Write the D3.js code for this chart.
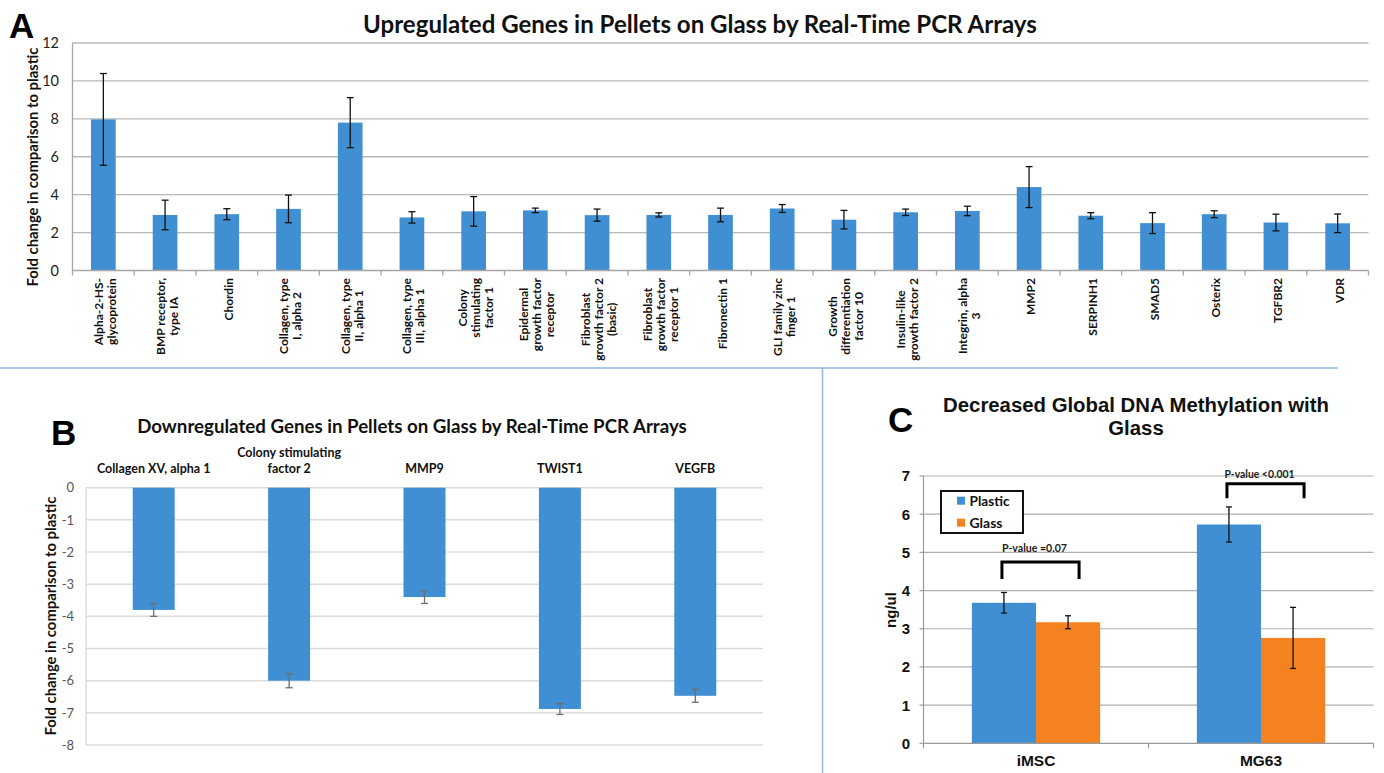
<!DOCTYPE html>
<html>
<head>
<meta charset="utf-8">
<script src="https://cdn.jsdelivr.net/npm/d3@7"></script>
<style>
  html, body { margin: 0; padding: 0; background: #fff; }
  svg { display: block; }
</style>
</head>
<body>
<svg id="chart" width="1384" height="773"></svg>
<script>
// ---------------- DATA ----------------
const upGenes = [
  "Alpha-2-HS-\nglycoprotein", "BMP receptor,\ntype IA", "Chordin", "Collagen, type\nI, alpha 2",
  "Collagen, type\nII, alpha 1", "Collagen, type\nIII, alpha 1", "Colony\nstimulating\nfactor 1",
  "Epidermal\ngrowth factor\nreceptor", "Fibroblast\ngrowth factor 2\n(basic)", "Fibroblast\ngrowth factor\nreceptor 1",
  "Fibronectin 1", "GLI family zinc\nfinger 1", "Growth\ndifferentiation\nfactor 10", "Insulin-like\ngrowth factor 2",
  "Integrin, alpha\n3", "MMP2", "SERPINH1", "SMAD5", "Osterix", "TGFBR2", "VDR"
];
const upValues = [7.97, 2.93, 2.97, 3.25, 7.8, 2.8, 3.12, 3.17, 2.92, 2.93, 2.93, 3.27, 2.68, 3.07, 3.14, 4.4, 2.89, 2.5, 2.97, 2.53, 2.49];
const upErrors = [2.42, 0.78, 0.29, 0.73, 1.32, 0.3, 0.78, 0.12, 0.32, 0.11, 0.36, 0.21, 0.49, 0.17, 0.25, 1.08, 0.16, 0.55, 0.18, 0.44, 0.49];
const upTicks = [0, 2, 4, 6, 8, 10, 12];

const downGenes = ["Collagen XV, alpha 1", "Colony stimulating\nfactor 2", "MMP9", "TWIST1", "VEGFB"];
const downValues = [-3.8, -6.0, -3.4, -6.88, -6.47];
const downErrors = [0.2, 0.22, 0.2, 0.17, 0.2];
const downTicks = [0, -1, -2, -3, -4, -5, -6, -7, -8];

const cells = ["iMSC", "MG63"];
const seriesNames = ["Plastic", "Glass"];
const plasticValues = [3.68, 5.73];
const glassValues = [3.17, 2.76];
const plasticErrors = [0.27, 0.46];
const glassErrors = [0.17, 0.8];
const methTicks = [0, 1, 2, 3, 4, 5, 6, 7];
const pValueLabels = ["P-value =0.07", "P-value <0.001"];
const bracketTop = [4.75, 6.8];
const bracketLeg = [4.3, 6.42];
const pLabelAt = [5.0, 6.96];

// ---------------- STYLE ----------------
const BLUE = "#3f8fd2";
const ORANGE = "#f58220";
const CAL = "Lato, 'Open Sans', sans-serif";
const ARIAL = "'Liberation Sans', Arial, sans-serif";

const svg = d3.select("#chart");

function fit(sel, target) {
  const n = sel.node();
  const fs = parseFloat(sel.attr("font-size"));
  const w = n.getComputedTextLength();
  if (w > 0) sel.attr("font-size", (fs * target / w).toFixed(2));
  return sel;
}

// separators
svg.append("line").attr("x1", 0).attr("x2", 1338).attr("y1", 368).attr("y2", 368)
  .attr("stroke", "#8fb8e3").attr("stroke-width", 1.5);
svg.append("line").attr("x1", 822.5).attr("x2", 822.5).attr("y1", 368).attr("y2", 773)
  .attr("stroke", "#8fb8e3").attr("stroke-width", 1.5);

// ---------------- PANEL A ----------------
(function () {
  const g = svg.append("g");
  const x = d3.scaleBand().domain(upGenes).range([72.5, 1368.5]).padding(0);
  const y = d3.scaleLinear().domain([0, 12]).range([270.5, 43]);
  const bw = x.bandwidth() * 0.4;

  g.append("g").selectAll("line").data(upTicks.filter(d => d > 0)).join("line")
    .attr("x1", 72.5).attr("x2", 1368.5).attr("y1", d => y(d)).attr("y2", d => y(d))
    .attr("stroke", "#b8b8b8").attr("stroke-width", 1.3);

  g.append("g").selectAll("rect").data(upValues).join("rect")
    .attr("x", (d, i) => x(upGenes[i]) + (x.bandwidth() - bw) / 2)
    .attr("width", bw)
    .attr("y", d => y(d)).attr("height", d => y(0) - y(d))
    .attr("fill", BLUE);

  // axes
  g.append("line").attr("x1", 72.5).attr("x2", 72.5).attr("y1", y(12)).attr("y2", y(0))
    .attr("stroke", "#a6a6a6").attr("stroke-width", 1.3);
  g.append("line").attr("x1", 72.5).attr("x2", 1368.5).attr("y1", y(0)).attr("y2", y(0))
    .attr("stroke", "#a6a6a6").attr("stroke-width", 1.3);
  g.append("g").selectAll("line").data(d3.range(upGenes.length + 1)).join("line")
    .attr("x1", i => 72.5 + i * x.bandwidth()).attr("x2", i => 72.5 + i * x.bandwidth())
    .attr("y1", y(0)).attr("y2", y(0) + 5)
    .attr("stroke", "#a6a6a6").attr("stroke-width", 1.3);

  // error bars
  const eb = g.append("g").attr("stroke", "#111").attr("stroke-width", 1.3);
  upValues.forEach((v, i) => {
    const cx = x(upGenes[i]) + x.bandwidth() / 2;
    const e = upErrors[i];
    eb.append("line").attr("x1", cx).attr("x2", cx).attr("y1", y(v + e)).attr("y2", y(v - e));
    eb.append("line").attr("x1", cx - 3.5).attr("x2", cx + 3.5).attr("y1", y(v + e)).attr("y2", y(v + e));
    eb.append("line").attr("x1", cx - 3.5).attr("x2", cx + 3.5).attr("y1", y(v - e)).attr("y2", y(v - e));
  });

  // y tick labels
  g.append("g").selectAll("text").data(upTicks).join("text")
    .attr("x", 59).attr("y", d => y(d)).attr("dy", "0.36em")
    .attr("text-anchor", "end").attr("font-family", CAL).attr("font-size", 14.5)
    .attr("fill", "#222").text(d => d);

  // x labels
  upGenes.forEach((lab, i) => {
    const lines = lab.split("\n");
    const cx = x(lab) + x.bandwidth() / 2 + 1.5;
    const lg = g.append("g").attr("transform", `translate(${cx},278) rotate(-90)`);
    const ts = lines.map((l, j) => lg.append("text")
      .attr("y", (j - (lines.length - 1) / 2) * 13)
      .attr("dominant-baseline", "central")
      .attr("text-anchor", "middle")
      .attr("font-family", CAL).attr("font-weight", 700).attr("font-size", 12)
      .attr("fill", "#111").text(l));
    const maxW = d3.max(ts, t => t.node().getComputedTextLength());
    ts.forEach(t => t.attr("x", -maxW / 2));
  });

  // y title
  const yt = g.append("text").attr("transform", "translate(38,167) rotate(-90)")
    .attr("text-anchor", "middle").attr("font-family", CAL).attr("font-weight", 700)
    .attr("font-size", 15).attr("fill", "#111").text("Fold change in comparison to plastic");
  fit(yt, 239);

  // title
  const tt = g.append("text").attr("x", 700).attr("y", 33).attr("text-anchor", "middle")
    .attr("font-family", CAL).attr("font-weight", 700).attr("font-size", 22).attr("fill", "#111")
    .text("Upregulated Genes in Pellets on Glass by Real-Time PCR Arrays");
  fit(tt, 674);

  g.append("text").attr("x", 9).attr("y", 38).attr("font-family", ARIAL).attr("font-weight", 700)
    .attr("font-size", 35).attr("fill", "#000").text("A");
})();

// ---------------- PANEL B ----------------
(function () {
  const g = svg.append("g");
  const x = d3.scaleBand().domain(downGenes).range([86, 763]).padding(0);
  const y = d3.scaleLinear().domain([-8, 0]).range([745, 487.7]);
  const bw = x.bandwidth() * 0.31;

  g.append("g").selectAll("line").data(downTicks).join("line")
    .attr("x1", 86).attr("x2", 763).attr("y1", d => y(d)).attr("y2", d => y(d))
    .attr("stroke", "#dcdcdc").attr("stroke-width", 1.5);
  g.append("line").attr("x1", 86).attr("x2", 86).attr("y1", y(0)).attr("y2", y(-8))
    .attr("stroke", "#dcdcdc").attr("stroke-width", 1.5);

  g.append("g").selectAll("rect").data(downValues).join("rect")
    .attr("x", (d, i) => x(downGenes[i]) + (x.bandwidth() - bw) / 2)
    .attr("width", bw)
    .attr("y", y(0)).attr("height", d => y(d) - y(0))
    .attr("fill", BLUE);

  const eb = g.append("g").attr("stroke", "#6e6e6e").attr("stroke-width", 1.3);
  downValues.forEach((v, i) => {
    const cx = x(downGenes[i]) + x.bandwidth() / 2;
    const e = downErrors[i];
    eb.append("line").attr("x1", cx).attr("x2", cx).attr("y1", y(v + e)).attr("y2", y(v - e));
    eb.append("line").attr("x1", cx - 3.5).attr("x2", cx + 3.5).attr("y1", y(v + e)).attr("y2", y(v + e));
    eb.append("line").attr("x1", cx - 3.5).attr("x2", cx + 3.5).attr("y1", y(v - e)).attr("y2", y(v - e));
  });

  g.append("g").selectAll("text").data(downTicks).join("text")
    .attr("x", 74).attr("y", d => y(d)).attr("dy", "0.36em")
    .attr("text-anchor", "end").attr("font-family", CAL).attr("font-size", 13)
    .attr("fill", "#555").text(d => d === 0 ? "0" : "-" + Math.abs(d));

  downGenes.forEach((lab, i) => {
    const lines = lab.split("\n");
    const cx = x(lab) + x.bandwidth() / 2;
    lines.forEach((l, j) => {
      g.append("text").attr("x", cx).attr("y", 473 - (lines.length - 1 - j) * 16)
        .attr("text-anchor", "middle").attr("font-family", CAL).attr("font-weight", 700)
        .attr("font-size", 12.5).attr("fill", "#111").text(l);
    });
  });

  const yt = g.append("text").attr("transform", "translate(56,616) rotate(-90)")
    .attr("text-anchor", "middle").attr("font-family", CAL).attr("font-weight", 700)
    .attr("font-size", 15).attr("fill", "#111").text("Fold change in comparison to plastic");
  fit(yt, 239);

  const tt = g.append("text").attr("x", 412).attr("y", 433).attr("text-anchor", "middle")
    .attr("font-family", CAL).attr("font-weight", 700).attr("font-size", 18).attr("fill", "#111")
    .text("Downregulated Genes in Pellets on Glass by Real-Time PCR Arrays");
  fit(tt, 550);

  g.append("text").attr("x", 51).attr("y", 445).attr("font-family", ARIAL).attr("font-weight", 700)
    .attr("font-size", 35).attr("fill", "#000").text("B");
})();

// ---------------- PANEL C ----------------
(function () {
  const g = svg.append("g");
  const x0 = d3.scaleBand().domain(cells).range([923.5, 1373.5]).padding(0);
  const groupW = x0.bandwidth() * 0.57;
  const x1 = d3.scaleBand().domain(seriesNames).range([0, groupW]).padding(0);
  const y = d3.scaleLinear().domain([0, 7]).range([743.3, 476]);
  const vals = [plasticValues, glassValues];
  const errs = [plasticErrors, glassErrors];
  const cols = [BLUE, ORANGE];

  g.append("g").selectAll("line").data(methTicks.filter(d => d > 0)).join("line")
    .attr("x1", 923.5).attr("x2", 1373.5).attr("y1", d => y(d)).attr("y2", d => y(d))
    .attr("stroke", "#b0b0b0").attr("stroke-width", 1.2);
  // y axis + ticks
  g.append("line").attr("x1", 923.5).attr("x2", 923.5).attr("y1", y(7)).attr("y2", y(0))
    .attr("stroke", "#9a9a9a").attr("stroke-width", 1.2);
  g.append("g").selectAll("line").data(methTicks).join("line")
    .attr("x1", 919.5).attr("x2", 923.5).attr("y1", d => y(d)).attr("y2", d => y(d))
    .attr("stroke", "#9a9a9a").attr("stroke-width", 1.2);

  cells.forEach((c, ci) => {
    const gx = x0(c) + (x0.bandwidth() - groupW) / 2;
    seriesNames.forEach((s, si) => {
      const v = vals[si][ci];
      g.append("rect").attr("x", gx + x1(s)).attr("width", x1.bandwidth())
        .attr("y", y(v)).attr("height", y(0) - y(v)).attr("fill", cols[si]);
    });
  });

  // x axis
  g.append("line").attr("x1", 923.5).attr("x2", 1373.5).attr("y1", y(0)).attr("y2", y(0))
    .attr("stroke", "#9a9a9a").attr("stroke-width", 1.2);
  g.append("g").selectAll("line").data(d3.range(cells.length + 1)).join("line")
    .attr("x1", i => 923.5 + i * x0.bandwidth()).attr("x2", i => 923.5 + i * x0.bandwidth())
    .attr("y1", y(0)).attr("y2", y(0) + 5)
    .attr("stroke", "#9a9a9a").attr("stroke-width", 1.2);

  // error bars
  const eb = g.append("g").attr("stroke", "#111").attr("stroke-width", 1.3);
  cells.forEach((c, ci) => {
    const gx = x0(c) + (x0.bandwidth() - groupW) / 2;
    seriesNames.forEach((s, si) => {
      const v = vals[si][ci], e = errs[si][ci];
      const cx = gx + x1(s) + x1.bandwidth() / 2;
      eb.append("line").attr("x1", cx).attr("x2", cx).attr("y1", y(v + e)).attr("y2", y(v - e));
      eb.append("line").attr("x1", cx - 3).attr("x2", cx + 3).attr("y1", y(v + e)).attr("y2", y(v + e));
      eb.append("line").attr("x1", cx - 3).attr("x2", cx + 3).attr("y1", y(v - e)).attr("y2", y(v - e));
    });
  });

  // brackets and p-values
  cells.forEach((c, ci) => {
    const gx = x0(c) + (x0.bandwidth() - groupW) / 2;
    const xl = gx + x1("Plastic") + x1.bandwidth() / 2 - 2;
    const xr = gx + x1("Glass") + x1.bandwidth() / 2 + 11;
    g.append("path")
      .attr("d", `M${xl},${y(bracketLeg[ci])}V${y(bracketTop[ci])}H${xr}V${y(bracketLeg[ci])}`)
      .attr("fill", "none").attr("stroke", "#000").attr("stroke-width", 3);
    const pt = g.append("text").attr("x", (xl + xr) / 2 - 6).attr("y", y(pLabelAt[ci]))
      .attr("text-anchor", "middle").attr("font-family", CAL).attr("font-weight", 700)
      .attr("font-size", 11).attr("fill", "#222").text(pValueLabels[ci]);
    fit(pt, ci === 0 ? 65 : 70);
  });

  // tick labels
  g.append("g").selectAll("text").data(methTicks).join("text")
    .attr("x", 910).attr("y", d => y(d)).attr("dy", "0.36em")
    .attr("text-anchor", "end").attr("font-family", ARIAL).attr("font-weight", 700)
    .attr("font-size", 15).attr("fill", "#111").text(d => d);

  // x labels
  g.append("g").selectAll("text").data(cells).join("text")
    .attr("x", d => x0(d) + x0.bandwidth() / 2).attr("y", 766)
    .attr("text-anchor", "middle").attr("font-family", ARIAL).attr("font-weight", 700)
    .attr("font-size", 15.5).attr("fill", "#111").text(d => d);

  // y title
  g.append("text").attr("transform", "translate(896,610) rotate(-90)")
    .attr("text-anchor", "middle").attr("font-family", ARIAL).attr("font-weight", 700)
    .attr("font-size", 15).attr("fill", "#111").text("ng/ul");

  // legend
  const lg = g.append("g");
  lg.append("rect").attr("x", 941).attr("y", 491).attr("width", 82).attr("height", 42)
    .attr("fill", "#fff").attr("stroke", "#111").attr("stroke-width", 2);
  seriesNames.forEach((s, si) => {
    const cy = 500.7 + si * 22;
    lg.append("rect").attr("x", 957).attr("y", cy - 4).attr("width", 8).attr("height", 8).attr("fill", cols[si]);
    const t = lg.append("text").attr("x", 969.5).attr("y", cy).attr("dy", "0.36em")
      .attr("font-family", CAL).attr("font-weight", 700).attr("font-size", 15).attr("fill", "#111").text(s);
    fit(t, si === 0 ? 40 : 33);
  });

  // title
  const t1 = g.append("text").attr("x", 1136).attr("y", 412).attr("text-anchor", "middle")
    .attr("font-family", ARIAL).attr("font-weight", 700).attr("font-size", 20).attr("fill", "#111")
    .text("Decreased Global DNA Methylation with");
  fit(t1, 386);
  g.append("text").attr("x", 1136).attr("y", 435).attr("text-anchor", "middle")
    .attr("font-family", ARIAL).attr("font-weight", 700).attr("font-size", t1.attr("font-size")).attr("fill", "#111")
    .text("Glass");

  g.append("text").attr("x", 888).attr("y", 432).attr("font-family", ARIAL).attr("font-weight", 700)
    .attr("font-size", 35).attr("fill", "#000").text("C");
})();
</script>
</body>
</html>
